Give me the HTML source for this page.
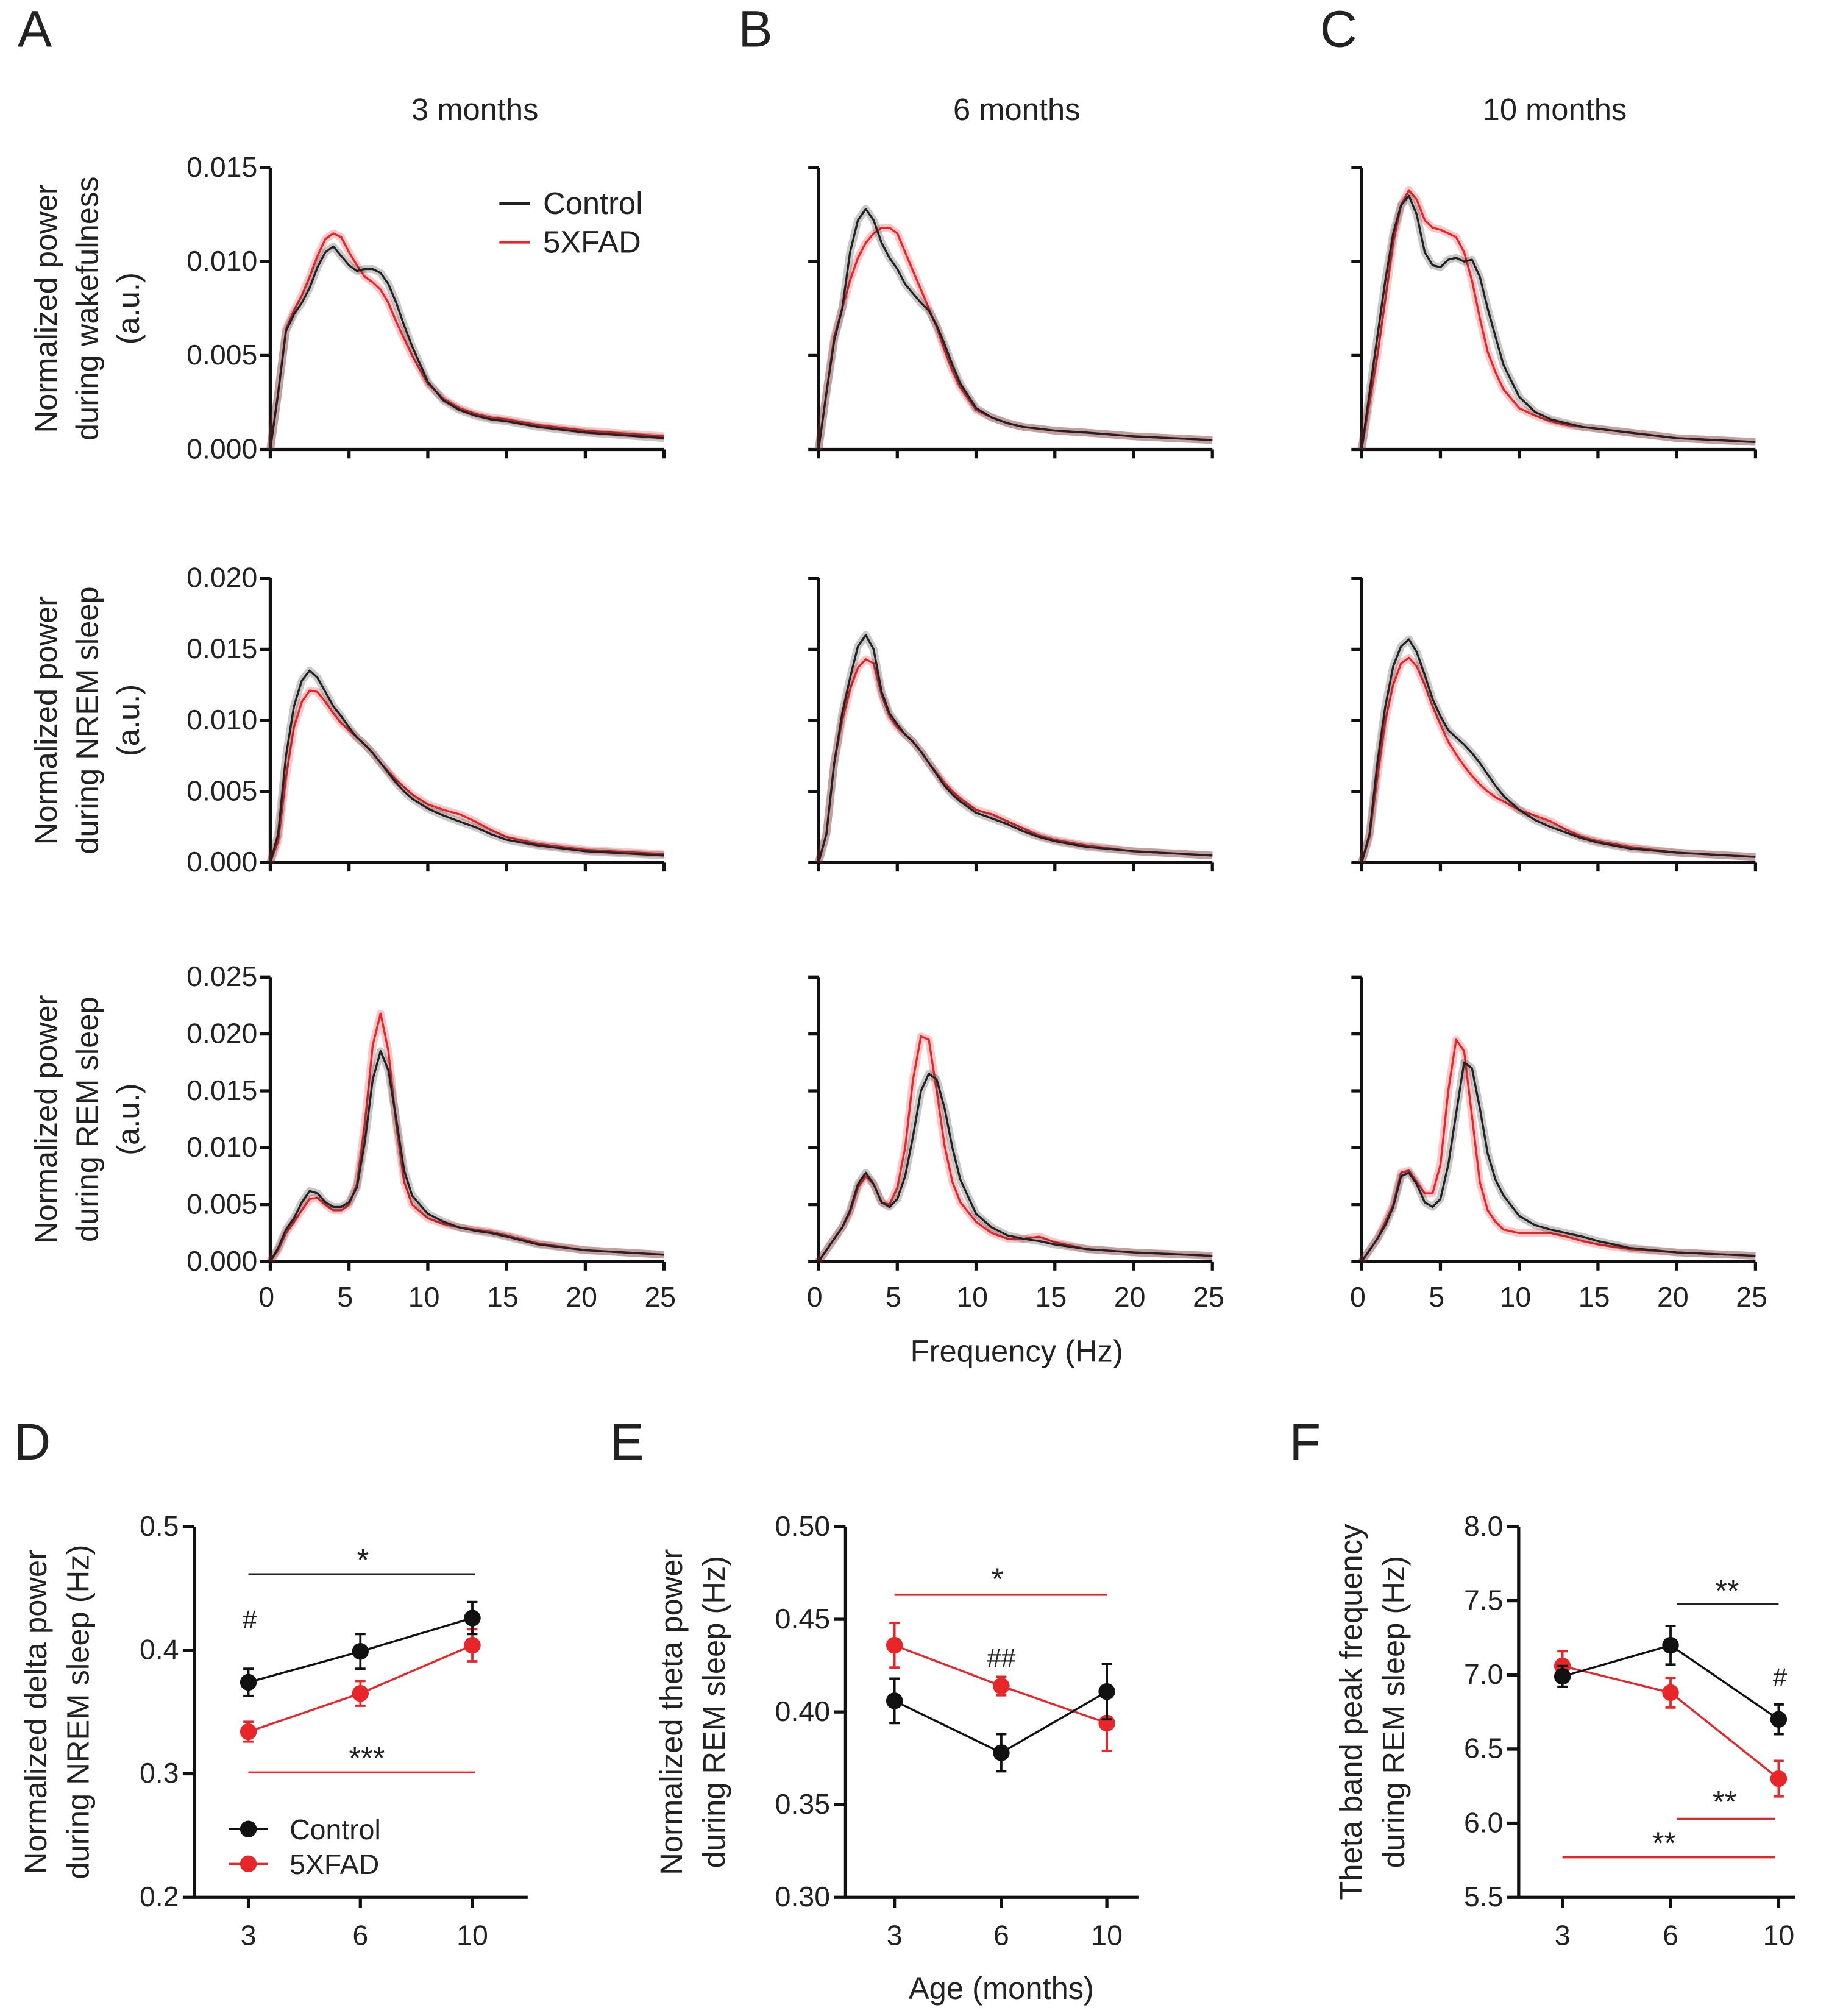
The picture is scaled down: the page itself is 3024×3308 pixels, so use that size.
<!DOCTYPE html>
<html><head><meta charset="utf-8"><style>
html,body{margin:0;padding:0;background:#fff}
svg{display:block}
text{font-family:"Liberation Sans",Arial,sans-serif;fill:#222}
</style></head><body>
<svg id="fig" xmlns="http://www.w3.org/2000/svg" width="3024" height="3308" viewBox="0 0 1432 1566"></svg>
<script>
const freqs=[0,0.5,1,1.5,2,2.5,3,3.5,4,4.5,5,5.5,6,6.5,7,7.5,8,8.5,9,10,11,12,13,14,15,17,20,25];
const wakeA_ctrl=[0,0.003,0.0063,0.0072,0.0078,0.0086,0.0097,0.0105,0.0108,0.0103,0.0098,0.0095,0.0096,0.0096,0.0094,0.0088,0.0078,0.0066,0.0055,0.0036,0.0026,0.0021,0.0018,0.0016,0.0015,0.0012,0.0009,0.0006];
const wakeA_fad=[0,0.003,0.0064,0.0074,0.0082,0.0092,0.0103,0.0112,0.0115,0.0113,0.0105,0.0098,0.0092,0.0089,0.0085,0.0078,0.0068,0.0059,0.005,0.0035,0.0027,0.0022,0.0019,0.0017,0.0016,0.0013,0.0010,0.0007];
const wakeB_ctrl=[0,0.003,0.0058,0.0075,0.0105,0.0122,0.0128,0.0122,0.011,0.0102,0.0096,0.0088,0.0083,0.0078,0.0074,0.0066,0.0056,0.0045,0.0035,0.0022,0.0017,0.0014,0.0012,0.0011,0.001,0.0009,0.0007,0.0005];
const wakeB_fad=[0,0.003,0.006,0.0075,0.009,0.0102,0.011,0.0115,0.0118,0.0118,0.0115,0.0105,0.0095,0.0085,0.0075,0.0065,0.0053,0.0042,0.0033,0.0021,0.0017,0.0014,0.0012,0.0011,0.001,0.0009,0.0007,0.0005];
const wakeC_ctrl=[0,0.003,0.006,0.009,0.0115,0.013,0.0135,0.0125,0.0105,0.0098,0.0097,0.0101,0.0102,0.01,0.0101,0.0092,0.0075,0.006,0.0045,0.0028,0.002,0.0016,0.0014,0.0012,0.0011,0.0009,0.0006,0.0004];
const wakeC_fad=[0,0.0025,0.005,0.008,0.011,0.013,0.0138,0.0133,0.0122,0.0118,0.0117,0.0115,0.0113,0.0105,0.009,0.007,0.0052,0.0041,0.0032,0.0022,0.0018,0.0015,0.0013,0.0012,0.0011,0.0009,0.0006,0.0004];
const nremA_ctrl=[0,0.002,0.0075,0.011,0.0128,0.0135,0.013,0.012,0.011,0.0103,0.0095,0.0088,0.0083,0.0077,0.007,0.0063,0.0056,0.005,0.0045,0.0038,0.0033,0.0029,0.0025,0.002,0.0016,0.0012,0.0008,0.0005];
const nremA_fad=[0,0.0015,0.006,0.0095,0.0113,0.0121,0.012,0.0113,0.0105,0.0098,0.0093,0.0088,0.0083,0.0077,0.007,0.0064,0.0058,0.0053,0.0048,0.0041,0.0037,0.0034,0.0029,0.0023,0.0018,0.0013,0.0009,0.0006];
const nremB_ctrl=[0,0.002,0.007,0.0105,0.013,0.0152,0.016,0.015,0.012,0.0105,0.0097,0.009,0.0085,0.0078,0.007,0.0062,0.0054,0.0048,0.0043,0.0035,0.0031,0.0027,0.0022,0.0018,0.0015,0.0011,0.0008,0.0005];
const nremB_fad=[0,0.002,0.007,0.01,0.0122,0.0137,0.0143,0.014,0.0118,0.0103,0.0095,0.009,0.0085,0.0078,0.007,0.0063,0.0056,0.005,0.0045,0.0037,0.0034,0.0029,0.0024,0.0019,0.0016,0.0012,0.0008,0.0005];
const nremC_ctrl=[0,0.002,0.007,0.011,0.0138,0.0152,0.0157,0.0148,0.0132,0.0115,0.0103,0.0093,0.0088,0.0083,0.0077,0.007,0.0062,0.0054,0.0047,0.0037,0.003,0.0025,0.0021,0.0017,0.0014,0.001,0.0007,0.0004];
const nremC_fad=[0,0.0018,0.006,0.01,0.0125,0.014,0.0144,0.0138,0.0125,0.011,0.0097,0.0085,0.0076,0.0068,0.0061,0.0055,0.005,0.0046,0.0043,0.0037,0.0033,0.0029,0.0023,0.0018,0.0015,0.0011,0.0007,0.0004];
const remA_ctrl=[0,0.0012,0.0028,0.0038,0.0052,0.0062,0.006,0.0052,0.0048,0.0048,0.0052,0.0065,0.0105,0.016,0.0185,0.0168,0.0125,0.008,0.0058,0.0042,0.0035,0.003,0.0027,0.0025,0.0022,0.0015,0.001,0.0006];
const remA_fad=[0,0.001,0.0025,0.0035,0.0045,0.0055,0.0056,0.005,0.0045,0.0045,0.005,0.0068,0.012,0.019,0.0218,0.0185,0.012,0.007,0.005,0.0038,0.0033,0.003,0.0028,0.0026,0.0023,0.0016,0.001,0.0006];
const remB_ctrl=[0,0.001,0.002,0.003,0.0045,0.0068,0.0078,0.0068,0.0052,0.0048,0.0055,0.0075,0.011,0.015,0.0165,0.016,0.0135,0.01,0.0072,0.0042,0.003,0.0023,0.002,0.0018,0.0015,0.0011,0.0008,0.0005];
const remB_fad=[0,0.001,0.002,0.003,0.0043,0.0065,0.0075,0.0068,0.0052,0.005,0.0065,0.01,0.016,0.0198,0.0195,0.015,0.0102,0.007,0.0052,0.0035,0.0025,0.002,0.002,0.0022,0.0017,0.0011,0.0008,0.0005];
const remC_ctrl=[0,0.001,0.002,0.0032,0.0048,0.0075,0.0078,0.0068,0.0052,0.0048,0.0055,0.0085,0.013,0.0175,0.017,0.0135,0.0095,0.0072,0.0058,0.004,0.0032,0.0028,0.0025,0.0022,0.0018,0.0012,0.0008,0.0005];
const remC_fad=[0,0.001,0.002,0.0035,0.005,0.0078,0.008,0.007,0.006,0.006,0.0085,0.015,0.0195,0.0185,0.0128,0.007,0.0045,0.0035,0.0028,0.0025,0.0025,0.0025,0.0022,0.0018,0.0015,0.0011,0.0008,0.0005];
const xTicks=[0,5,10,15,20,25];
const wakeTicks=["0.000","0.005","0.010","0.015"];
const nremTicks=["0.000","0.005","0.010","0.015","0.020"];
const remTicks=["0.000","0.005","0.010","0.015","0.020","0.025"];
const ages=["3","6","10"];
const deltaCtrl=[0.374,0.399,0.426], deltaCtrlErr=[0.011,0.014,0.013];
const deltaFad=[0.334,0.365,0.404], deltaFadErr=[0.008,0.010,0.013];
const thetaCtrl=[0.406,0.378,0.411], thetaCtrlErr=[0.012,0.010,0.015];
const thetaFad=[0.436,0.414,0.394], thetaFadErr=[0.012,0.005,0.015];
const peakCtrl=[6.99,7.20,6.70], peakCtrlErr=[0.07,0.13,0.10];
const peakFad=[7.06,6.88,6.30], peakFadErr=[0.10,0.10,0.12];
const deltaTicks=["0.2","0.3","0.4","0.5"];
const thetaTicks=["0.30","0.35","0.40","0.45","0.50"];
const peakTicks=["5.5","6.0","6.5","7.0","7.5","8.0"];

const svg=document.getElementById('fig');
const NS='http://www.w3.org/2000/svg';
function el(tag,attrs,parent){const e=document.createElementNS(NS,tag);for(const k in attrs)e.setAttribute(k,attrs[k]);(parent||svg).appendChild(e);return e;}
function txt(s,x,y,size,anchor,color,parent,rot){const t=el('text',{x:x,y:y,'font-size':size,'text-anchor':anchor||'middle',fill:color||'#222'},parent);if(rot)t.setAttribute('transform','rotate(-90 '+x+' '+y+')');t.textContent=s;return t;}
const RED='#e8262a';

[['A',27,36],['B',587,36],['C',1040,36],['D',25,1134],['E',487,1134],['F',1014,1134]].forEach(l=>{const t=txt(l[0],l[1],l[2],40,'middle','#111');});
[['3 months',369],['6 months',790],['10 months',1208]].forEach(c=>{const t=txt(c[0],c[1],93,24);});

const colX=[210,636,1058];
const rows=[
 {top:130,bot:349,max:0.015,ticks:wakeTicks,name:'wake',lab:['Normalized power','during wakefulness','(a.u.)'],data:[[wakeA_ctrl,wakeA_fad],[wakeB_ctrl,wakeB_fad],[wakeC_ctrl,wakeC_fad]]},
 {top:449,bot:670,max:0.020,ticks:nremTicks,name:'nrem',lab:['Normalized power','during NREM sleep','(a.u.)'],data:[[nremA_ctrl,nremA_fad],[nremB_ctrl,nremB_fad],[nremC_ctrl,nremC_fad]]},
 {top:759,bot:980,max:0.025,ticks:remTicks,name:'rem',lab:['Normalized power','during REM sleep','(a.u.)'],data:[[remA_ctrl,remA_fad],[remB_ctrl,remB_fad],[remC_ctrl,remC_fad]]}
];
rows.forEach((r,ri)=>{
 const cy=(r.top+r.bot)/2;
 r.lab.forEach((s,i)=>{const t=txt(s,44+i*32,cy,24,'middle','#222',null,true);});
 colX.forEach((x0,ci)=>{
  const g=el('g',{});
  
  
  const sx=f=>x0+f/25*306;
  const sy=v=>r.bot-v/r.max*(r.bot-r.top);
  el('line',{x1:x0,y1:r.top,x2:x0,y2:r.bot,stroke:'#111','stroke-width':2.5},g);
  el('line',{x1:x0-1,y1:r.bot,x2:x0+306,y2:r.bot,stroke:'#111','stroke-width':2.5},g);
  r.ticks.forEach((tl,i)=>{const y=sy(parseFloat(tl));el('line',{x1:x0-8,y1:y,x2:x0,y2:y,stroke:'#111','stroke-width':2.5},g);
   if(ci===0){const t=txt(tl,x0-10,y+7,22,'end','#222',g);}});
  xTicks.forEach(f=>{const x=sx(f);el('line',{x1:x,y1:r.bot,x2:x,y2:r.bot+7,stroke:'#111','stroke-width':2.5},g);
   if(ri===2){const t=txt(String(f),x-3,r.bot+35,22,'middle','#222',g);}});
  const series=r.data[ci];
  [[series[1],RED,'5xfad'],[series[0],'#222','control']].forEach(sd=>{
   const pts=freqs.map((f,i)=>sx(f).toFixed(1)+','+sy(sd[0][i]).toFixed(1)).join(' ');
   const band=el('polyline',{points:pts,fill:'none',stroke:sd[1],'stroke-opacity':0.25,'stroke-width':6,'stroke-linejoin':'round'},g);
   
   
   const line=el('polyline',{points:pts,fill:'none',stroke:sd[1],'stroke-width':1.6,'stroke-linejoin':'round'},g);
   
   
  });
 });
});
el('line',{x1:388,y1:158,x2:412,y2:158,stroke:'#222','stroke-width':2});
el('line',{x1:388,y1:188,x2:412,y2:188,stroke:RED,'stroke-width':2});
txt('Control',422,166,24,'start');
txt('5XFAD',422,196,24,'start');
const fl=txt('Frequency (Hz)',790,1058,24);

function dotPanel(o){
 const g=el('g',{});
 
 
 const top=1186,bot=1474;
 const sy=v=>bot-(v-o.min)/(o.max-o.min)*(bot-top);
 const sx=i=>o.xs[i];
 el('line',{x1:o.ax,y1:top,x2:o.ax,y2:bot,stroke:'#111','stroke-width':2.5},g);
 el('line',{x1:o.ax-1,y1:bot,x2:o.xend,y2:bot,stroke:'#111','stroke-width':2.5},g);
 o.ticks.forEach(tl=>{const y=sy(parseFloat(tl));el('line',{x1:o.ax-9,y1:y,x2:o.ax,y2:y,stroke:'#111','stroke-width':2.5},g);const t=txt(tl,o.ax-12,y+7,22,'end','#222',g);});
 ages.forEach((a,i)=>{el('line',{x1:sx(i),y1:bot,x2:sx(i),y2:bot+8,stroke:'#111','stroke-width':2.5},g);const t=txt(a,sx(i),bot+37,22,'middle','#222',g);});
 o.lab.forEach((s,i)=>{const t=txt(s,o.labx+i*33,1330,24,'middle','#222',g,true);});
 [[o.fad,o.fadE,RED,'5xfad'],[o.ctrl,o.ctrlE,'#111','control']].forEach(s=>{
  const pts=s[0].map((v,i)=>sx(i)+','+sy(v).toFixed(1)).join(' ');
  const pl=el('polyline',{points:pts,fill:'none',stroke:s[2],'stroke-width':1.6},g);
  
  
  s[0].forEach((v,i)=>{
   const y1=sy(v+s[1][i]),y2=sy(v-s[1][i]),x=sx(i);
   const e=el('path',{d:`M${x},${y1}V${y2}M${x-4},${y1}H${x+4}M${x-4},${y2}H${x+4}`,stroke:s[2],'stroke-width':1.8,fill:'none'},g);
   
   
   const c=el('circle',{cx:x,cy:sy(v),r:6.5,fill:s[2]},g);
   
   
  });
 });
 o.ann.forEach(a=>{
  if(a.bar){el('line',{x1:a.bar[0],y1:a.bar[2],x2:a.bar[1],y2:a.bar[2],stroke:a.c,'stroke-width':1.6},g);}
  const t=txt(a.t,a.x,a.y,a.s||22,'middle',a.c,g);
 });
 return g;
}
dotPanel({name:'delta-power-panel',ax:151,xend:410,xs:[193,280,367],min:0.2,max:0.5,ticks:deltaTicks,ctrl:deltaCtrl,ctrlE:deltaCtrlErr,fad:deltaFad,fadE:deltaFadErr,labx:36,lab:['Normalized delta power','during NREM sleep (Hz)'],
 ann:[{bar:[193,369,1223],t:'*',x:282,y:1220,c:'#222',s:24},{bar:[193,369,1377],t:'***',x:285,y:1374,c:RED,s:24},{t:'#',x:194,y:1265,c:'#222',s:20}]});
dotPanel({name:'theta-power-panel',ax:657,xend:885,xs:[695,778,860],min:0.30,max:0.50,ticks:thetaTicks,ctrl:thetaCtrl,ctrlE:thetaCtrlErr,fad:thetaFad,fadE:thetaFadErr,labx:530,lab:['Normalized theta power','during REM sleep (Hz)'],
 ann:[{bar:[695,860,1239],t:'*',x:775,y:1235,c:RED,s:24},{t:'##',x:778,y:1295,c:'#222',s:20}]});
dotPanel({name:'theta-peak-panel',ax:1180,xend:1395,xs:[1214,1298,1382],min:5.5,max:8.0,ticks:peakTicks,ctrl:peakCtrl,ctrlE:peakCtrlErr,fad:peakFad,fadE:peakFadErr,labx:1058,lab:['Theta band peak frequency','during REM sleep (Hz)'],
 ann:[{bar:[1303,1382,1246],t:'**',x:1342,y:1244,c:'#222',s:24},{t:'#',x:1383,y:1310,c:'#222',s:20},{bar:[1303,1379,1413],t:'**',x:1340,y:1408,c:RED,s:24},{bar:[1214,1379,1443],t:'**',x:1293,y:1440,c:RED,s:24}]});
el('line',{x1:178,y1:1421,x2:208,y2:1421,stroke:'#111','stroke-width':1.6});
el('circle',{cx:193,cy:1421,r:6.5,fill:'#111'});
el('line',{x1:178,y1:1448,x2:208,y2:1448,stroke:RED,'stroke-width':1.6});
el('circle',{cx:193,cy:1448,r:6.5,fill:RED});
txt('Control',225,1429,22,'start');
txt('5XFAD',225,1456,22,'start');
const al=txt('Age (months)',778,1553,24);
</script>
</body></html>
